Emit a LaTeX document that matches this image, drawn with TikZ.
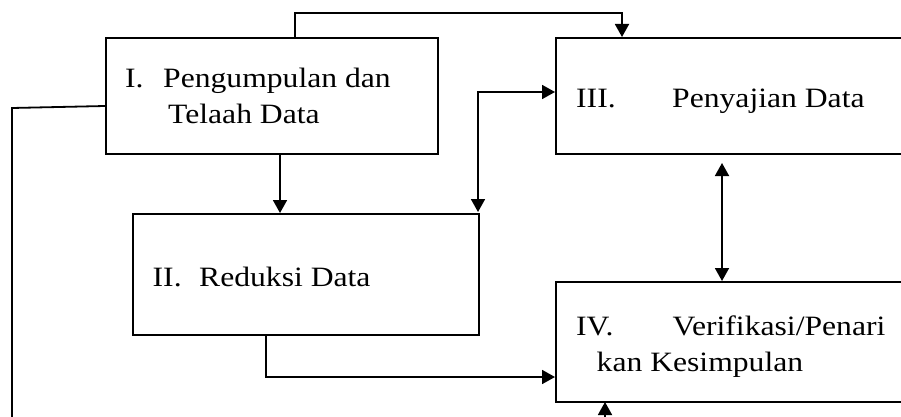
\documentclass[tikz,border=0pt]{standalone}
\usepackage{fontspec}
\setmainfont[FakeStretch=1.13]{Liberation Serif}
\usetikzlibrary{arrows.meta}
\begin{document}
\begin{tikzpicture}[x=1pt,y=-1pt,
  boxstyle/.style={draw,line width=1.8pt,rectangle,inner sep=0pt,anchor=north west},
  txt/.style={inner sep=0pt,anchor=base west,font=\fontsize{28}{35.6}\selectfont},
  conn/.style={line width=1.8pt,-{Triangle[width=14pt,length=13pt]}},
  dconn/.style={line width=1.8pt,{Triangle[width=14pt,length=13pt]}-{Triangle[width=14pt,length=13pt]}}]
\useasboundingbox (0,0) rectangle (901,417);
\clip (0,0) rectangle (901,417);
% boxes
\node[boxstyle,minimum width=332pt,minimum height=116pt] (b1) at (105,37) {};
\node[boxstyle,minimum width=380pt,minimum height=116pt] (b3) at (555,37) {};
\node[boxstyle,minimum width=346pt,minimum height=121pt] (b2) at (132,213) {};
\node[boxstyle,minimum width=380pt,minimum height=120pt] (b4) at (555,281) {};
% texts
\node[txt] (t1a) at (125,88) {I.};
\node[txt] (t1b) at (163,88) {Pengumpulan dan};
\node[txt] (t1c) at (168,123.5) {Telaah Data};
\node[txt] (t3a) at (576,107) {III.};
\node[txt] (t3b) at (672,107) {Penyajian Data};
\node[txt] (t2a) at (152.5,286.5) {II.};
\node[txt] (t2b) at (199,286.5) {Reduksi Data};
\node[txt] (t4a) at (576,335.5) {IV.};
\node[txt] (t4b) at (672.5,335.5) {Verifikasi/Penari};
\node[txt] (t4c) at (596.5,371.5) {kan Kesimpulan};
% coordinates
\coordinate (c1) at (295,13);
\coordinate (c2) at (12,108);
\coordinate (c3) at (12,440);
\coordinate (c4) at (478,92);
\coordinate (c5) at (266,377);
\coordinate (c6) at (722,163);
% connectors
\draw[conn] (b1.north -| c1) -- (c1) -- (c1 -| 622,0) -- (622,37);
\draw[conn] (b1.west |- 0,106) -- (c2) -- (c3) -| (605,402);
\draw[conn] (b1.south -| 280,0) -- (280,213);
\draw[dconn] (b3.west |- c4) -- (c4) -- (478,212);
\draw[conn] (b2.south -| c5) -- (c5) -- (b4.west |- c5);
\draw[dconn] (c6) -- (b4.north -| c6);
\end{tikzpicture}
\end{document}
